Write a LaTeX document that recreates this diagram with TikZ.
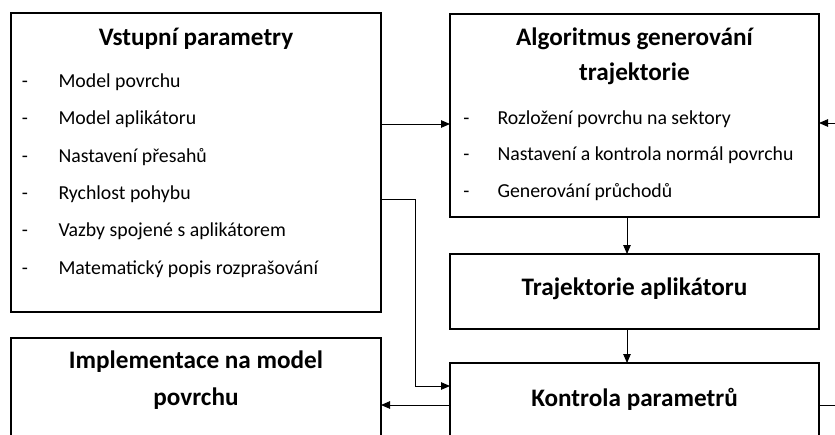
\documentclass[tikz,border=0pt]{standalone}
\usepackage{fontspec}
\setmainfont{Carlito}
\usetikzlibrary{arrows.meta}

\newcommand\itemfont{\fontsize{19.8}{23}\selectfont}
\newcommand\headfont{\fontsize{25.2}{30}\selectfont\bfseries}

\tikzset{
  box/.style={draw, line width=1.4pt, anchor=north west, inner sep=0pt, outer sep=0pt},
  conn/.style={line width=0.9pt},
  arr/.style={conn, -{Triangle[length=9pt,width=7.5pt]}},
  head/.style={anchor=base, inner sep=0pt, font=\headfont},
  dashmark/.style={anchor=base, inner sep=0pt, font=\itemfont},
  entry/.style={anchor=base west, inner sep=0pt, font=\itemfont},
}

\begin{document}
\begin{tikzpicture}[x=1pt, y=-1pt]
\useasboundingbox (0,0) rectangle (835,434);

% boxes
\node[box, minimum width=370pt, minimum height=299pt] (in)   at (11,13)  {};
\node[box, minimum width=369pt, minimum height=203pt] (algo) at (450,14) {};
\node[box, minimum width=369pt, minimum height=75pt]  (traj) at (450,254) {};
\node[box, minimum width=369pt, minimum height=120pt] (kon)  at (450,363) {};
\node[box, minimum width=370pt, minimum height=120pt] (impl) at (11,338) {};

% input parameters
\node[head] (inT) at (196,45) {Vstupní parametry};
\foreach \t [count=\i] in {Model povrchu, Model aplikátoru, Nastavení přesahů,
    Rychlost pohybu, Vazby spojené s aplikátorem, Matematický popis rozprašování}{
  \node[dashmark] (inD\i) at (25,{87.3+37.35*(\i-1)}) {-};
  \node[entry] (inE\i) at (58.3,{87.3+37.35*(\i-1)}) {\t};
}

% trajectory generation algorithm
\node[head] (algoT1) at (634.5,45) {Algoritmus generování};
\node[head] (algoT2) at (634.5,80) {trajektorie};
\foreach \t [count=\i] in {Rozložení povrchu na sektory,
    Nastavení a kontrola normál povrchu, Generování průchodů}{
  \node[dashmark] (algoD\i) at (466.5,{124+36.7*(\i-1)}) {-};
  \node[entry] (algoE\i) at (497.3,{124+36.7*(\i-1)}) {\t};
}

\node[head] (trajT) at (634.5,295) {Trajektorie aplikátoru};
\node[head] (konT)  at (634.5,406) {Kontrola parametrů};
\node[head] (implT1) at (196,368) {Implementace na model};
\node[head] (implT2) at (196,405) {povrchu};

% connector helpers
\coordinate (r1)   at (0,124);
\coordinate (elb)  at (415,199);
\coordinate (r2)   at (0,386);
\coordinate (vx)   at (627,0);
\coordinate (rin)  at (850,123);
\coordinate (rout) at (850,405);

% connectors
\draw[arr] (in.east |- r1) -- (algo.west |- r1);
\draw[arr] (in.east |- elb) -- (elb) |- (kon.west |- r2);
\draw[arr] (rin) -- (algo.east |- rin);
\draw[arr] (algo.south -| vx) -- (traj.north -| vx);
\draw[arr] (traj.south -| vx) -- (kon.north -| vx);
\draw[arr] (kon.west |- rout) -- (impl.east |- rout);
\draw[conn] (kon.east |- rout) -- (rout);
\end{tikzpicture}
\end{document}
